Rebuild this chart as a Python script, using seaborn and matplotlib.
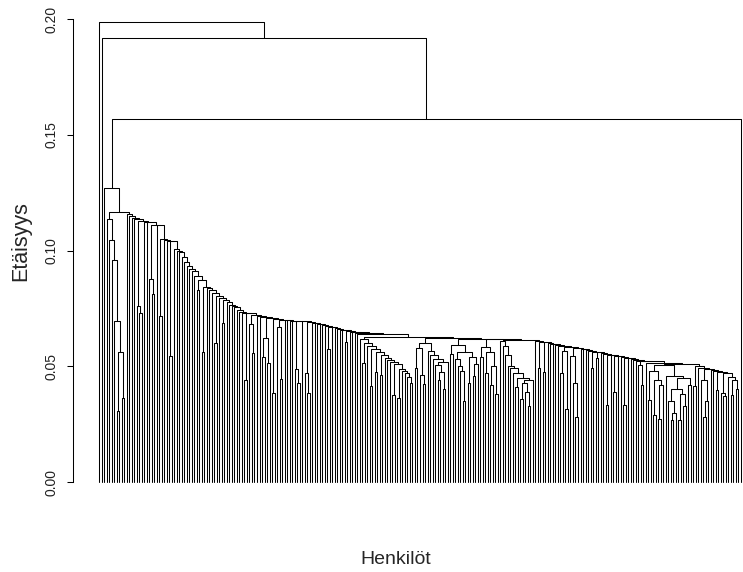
import numpy as np
import pandas as pd
import matplotlib
matplotlib.use("Agg")
import matplotlib.pyplot as plt
import seaborn as sns

# Merge height between each pair of neighbouring leaves (leaf order left to right).
top_merges = [0.199, 0.192, 0.127]
first_group = [0.1138, 0.1048, 0.0958, 0.0698, 0.0309, 0.0564, 0.0364, 0.1169]
upper_chain = [
    0.1160, 0.1150, 0.1140, 0.1137, 0.0759, 0.0730, 0.1128, 0.1125, 0.1122, 0.0879,
    0.0814, 0.1112, 0.1110, 0.0719, 0.1050, 0.1045, 0.1042, 0.0543, 0.1040, 0.1005,
    0.0998, 0.0993, 0.0974, 0.0950, 0.0932, 0.0922, 0.0910, 0.0892, 0.0830, 0.0874,
    0.0564, 0.0845, 0.0838, 0.0830, 0.0818, 0.0600, 0.0805, 0.0797, 0.0687, 0.0788,
]
lower_chain = [
    0.0780, 0.0766, 0.0760, 0.0756, 0.0745, 0.0736, 0.0732, 0.0442, 0.0729, 0.0684,
    0.0557, 0.0722, 0.0718, 0.0714, 0.0541, 0.0623, 0.0514, 0.0710, 0.0385, 0.0706,
    0.0670, 0.0446, 0.0702, 0.0700, 0.0699, 0.0698, 0.0697, 0.0490, 0.0430, 0.0695,
    0.0694, 0.0470, 0.0384, 0.0690, 0.0688, 0.0686, 0.0683, 0.0681, 0.0677, 0.0675,
    0.0574, 0.0671, 0.0668, 0.0665, 0.0662, 0.0658, 0.0655, 0.0607, 0.0652, 0.0650,
    0.0648, 0.0645, 0.0638,
]
middle_a = [
    0.0618, 0.0514, 0.0600, 0.0589, 0.0416, 0.0577, 0.0477, 0.0563, 0.0463, 0.0550,
    0.0537, 0.0528, 0.0520, 0.0377, 0.0510, 0.0362, 0.0490, 0.0478, 0.0470, 0.0455,
    0.0430, 0.0625,
]
middle_b = [
    0.0493, 0.0580, 0.0463, 0.0424, 0.0600, 0.0568, 0.0550, 0.0531, 0.0506, 0.0440,
    0.0475, 0.0400, 0.0520, 0.0621,
]
middle_c = [
    0.0555, 0.0593, 0.0530, 0.0500, 0.0480, 0.0350, 0.0561, 0.0430, 0.0540, 0.0460,
    0.0510, 0.0620,
]
middle_d = [0.0540, 0.0583, 0.0470, 0.0560, 0.0420, 0.0500, 0.0380, 0.0618]
middle_e = [
    0.0611, 0.0586, 0.0550, 0.0500, 0.0492, 0.0470, 0.0410, 0.0450, 0.0360, 0.0430,
    0.0390, 0.0330, 0.0440, 0.0615,
]
right_chain = [
    0.0610, 0.0492, 0.0606, 0.0477, 0.0603, 0.0599, 0.0597, 0.0595, 0.0591, 0.0589,
    0.0470, 0.0566, 0.0315, 0.0584, 0.0543, 0.0427, 0.0283, 0.0580, 0.0576, 0.0574,
    0.0570, 0.0567, 0.0492, 0.0563, 0.0535, 0.0560, 0.0556, 0.0553, 0.0333, 0.0550,
    0.0548, 0.0390, 0.0546, 0.0545, 0.0541, 0.0333, 0.0538, 0.0535, 0.0532, 0.0528,
    0.0525, 0.0506, 0.0420, 0.0521, 0.0516,
]
right_groups = [
    0.0355, 0.0480, 0.0290, 0.0440, 0.0271, 0.0420, 0.0506, 0.0460, 0.0352, 0.0268,
    0.0300, 0.0400, 0.0270, 0.0380, 0.0330, 0.0450, 0.0420, 0.0511, 0.0413, 0.0500,
    0.0492, 0.0442, 0.0283, 0.0350, 0.0488, 0.0484, 0.0480, 0.0398, 0.0477, 0.0384,
    0.0370, 0.0470, 0.0456, 0.0377, 0.0440, 0.0400,
]
last_merge = [0.1567]

gaps = np.array(top_merges + first_group + upper_chain + lower_chain + middle_a
                + middle_b + middle_c + middle_d + middle_e + right_chain
                + right_groups + last_merge)
n_leaves = len(gaps) + 1

y_ticks = [0.00, 0.05, 0.10, 0.15, 0.20]
y_tick_labels = ["0.00", "0.05", "0.10", "0.15", "0.20"]


def build(lo, hi, segs):
    """Split the leaf range at its largest neighbour gap; return node (x, height)."""
    if lo == hi:
        return float(lo + 1), 0.0
    k = lo + int(np.argmax(gaps[lo:hi]))
    h = float(gaps[k])
    xl, hl = build(lo, k, segs)
    xr, hr = build(k + 1, hi, segs)
    segs.append([(xl, hl), (xl, h), (xr, h), (xr, hr)])
    return (xl + xr) / 2.0, h


segments = []
build(0, n_leaves - 1, segments)
rows = []
for sid, seg in enumerate(segments):
    for order, (x, y) in enumerate(seg):
        rows.append({"seg": sid, "order": order, "x": x, "y": y})
df = pd.DataFrame(rows)

sns.set_theme(style="white")
plt.rcParams["font.family"] = ["Liberation Sans", "DejaVu Sans"]

W, H = 743, 572
fig = plt.figure(figsize=(W / 100, H / 100), dpi=100)

# plot region in pixels
left_px, right_px = 73.3, 766.7
top_px, bottom_px = 5.0, 500.0
ax = fig.add_axes([left_px / W, 1 - bottom_px / H,
                   (right_px - left_px) / W, (bottom_px - top_px) / H])

first_px, last_px = 99.0, 741.0
per_leaf = (last_px - first_px) / (n_leaves - 1)
ax.set_xlim(1 + (left_px - first_px) / per_leaf, 1 + (right_px - first_px) / per_leaf)
zero_px, px_per_unit = 482.0, 2313.5
ax.set_ylim((zero_px - bottom_px) / px_per_unit, (zero_px - top_px) / px_per_unit)

sns.lineplot(data=df, x="x", y="y", units="seg", estimator=None, sort=False,
             color="black", linewidth=0.75, ax=ax, legend=False)

for side in ["top", "right", "bottom"]:
    ax.spines[side].set_visible(False)
ax.spines["left"].set_bounds(0.0, 0.2)
ax.spines["left"].set_color("black")
ax.spines["left"].set_linewidth(0.75)
ax.set_xticks([])
ax.set_yticks(y_ticks)
ax.set_yticklabels(y_tick_labels, rotation=90, va="center", fontsize=10, color="#222222")
ax.tick_params(axis="y", length=4.3, width=0.75, color="black", pad=6, left=True)
ax.set_xlabel("")
ax.set_ylabel("")

fig.text(396 / W, 1 - 560 / H, "Henkilöt", ha="center", va="center", fontsize=14)
fig.text(21 / W, 1 - 241 / H, "Etäisyys", ha="center", va="center",
         rotation=90, fontsize=15.5)

fig.savefig("out.png", dpi=100)
